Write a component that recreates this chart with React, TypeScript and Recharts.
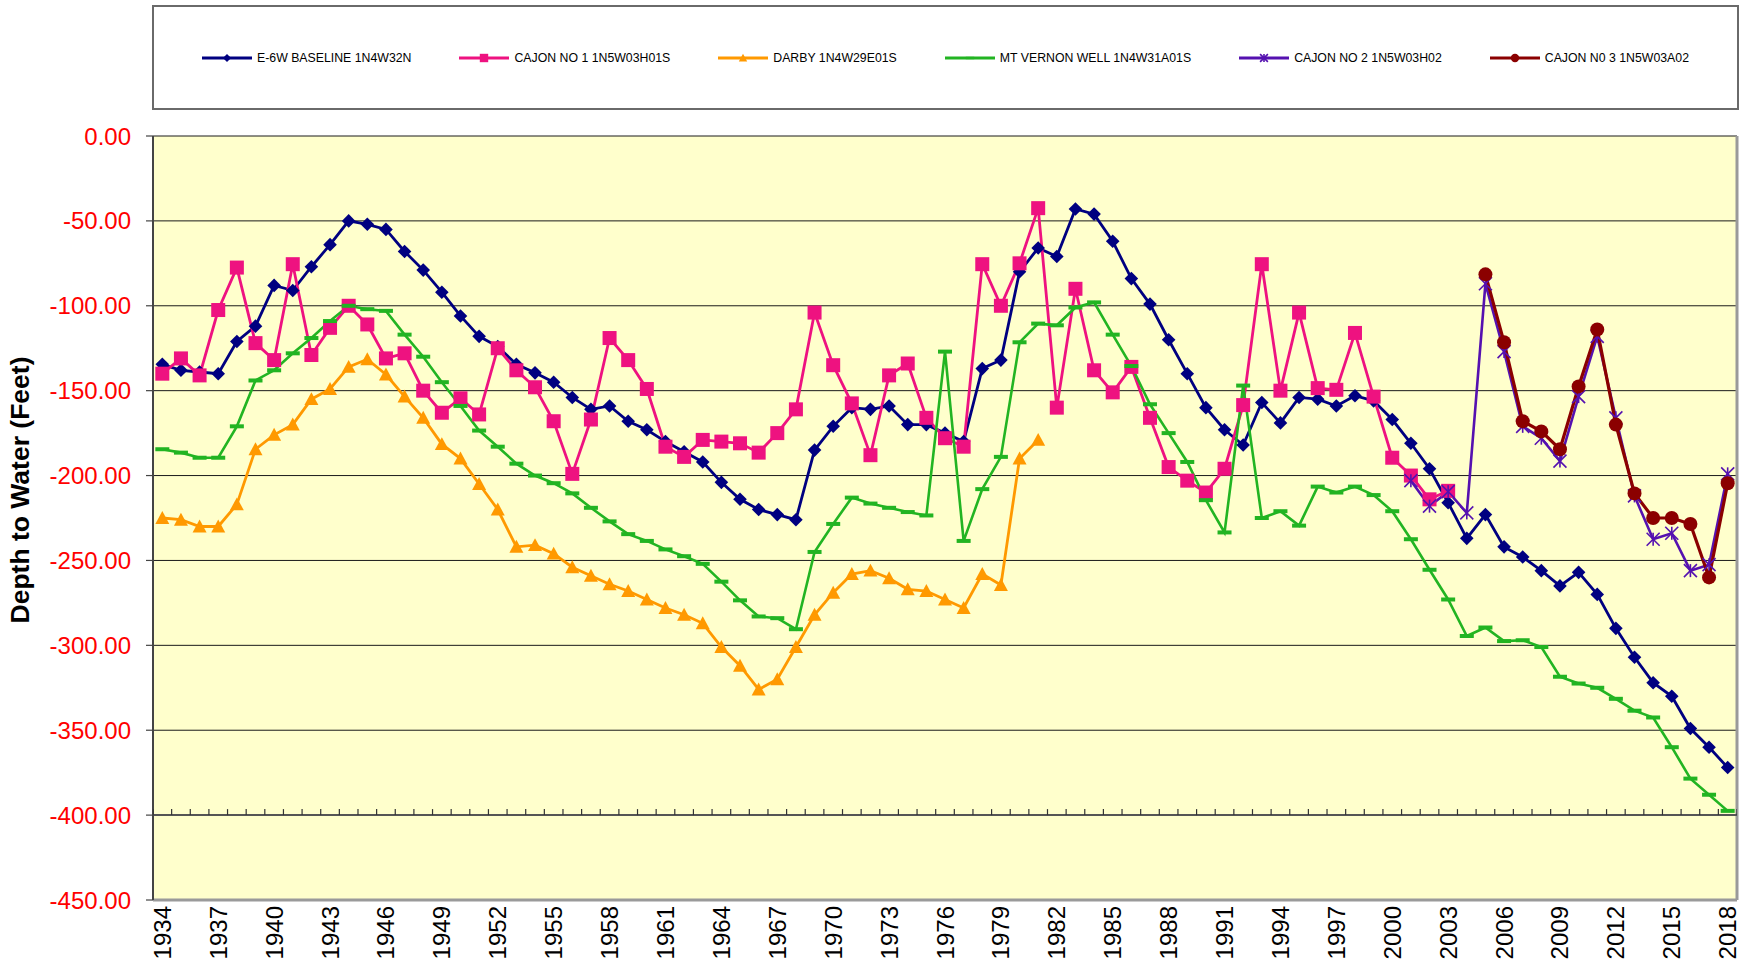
import React from 'react';
import { ComposedChart, Line, Scatter, XAxis, YAxis, CartesianGrid, ReferenceLine } from 'recharts';

// ---------- DATA ----------
const years = [
  1934, 1935, 1936, 1937, 1938, 1939, 1940, 1941, 1942, 1943, 1944, 1945, 1946, 1947, 1948, 1949,
  1950, 1951, 1952, 1953, 1954, 1955, 1956, 1957, 1958, 1959, 1960, 1961, 1962, 1963, 1964, 1965,
  1966, 1967, 1968, 1969, 1970, 1971, 1972, 1973, 1974, 1975, 1976, 1977, 1978, 1979, 1980, 1981,
  1982, 1983, 1984, 1985, 1986, 1987, 1988, 1989, 1990, 1991, 1992, 1993, 1994, 1995, 1996, 1997,
  1998, 1999, 2000, 2001, 2002, 2003, 2004, 2005, 2006, 2007, 2008, 2009, 2010, 2011, 2012, 2013,
  2014, 2015, 2016, 2017, 2018,
];

const xTickYears = [
  1934, 1937, 1940, 1943, 1946, 1949, 1952, 1955, 1958, 1961, 1964, 1967, 1970, 1973, 1976,
  1979, 1982, 1985, 1988, 1991, 1994, 1997, 2000, 2003, 2006, 2009, 2012, 2015, 2018,
];

const yTicks = [0, -50, -100, -150, -200, -250, -300, -350, -400, -450];

// E-6W BASELINE 1N4W32N, 1934-2018
const e6wBaseline = [
  -134.5, -138, -139, -140, -121, -112, -88, -91, -77, -64, -50, -52, -55, -68, -79, -92,
  -106, -118, -124, -134.5, -139.5, -145, -154, -161, -159, -168,
  -173, -180, -186, -192, -204, -214, -220, -223, -226, -185,
  -171, -160, -161, -159, -170, -170, -175, -180, -137, -132,
  -80, -66, -71, -43, -46, -62, -84, -99, -120, -140,
  -160, -173, -182, -157, -169, -154, -155, -159, -153, -156,
  -167, -181, -196, -216, -237, -223, -242, -248, -256, -265,
  -257, -270, -290, -307, -322, -330, -349, -360, -372,
];

// CAJON NO 1 1N5W03H01S, 1934-2003
const cajon1 = [
  -140, -131, -141, -102.5, -77.5, -122, -132, -75.5, -129, -113, -100, -111, -131, -128, -150, -163,
  -154.5, -164, -125, -138, -148, -168, -199, -167, -119, -132,
  -149, -183, -189, -179, -180, -181, -186.5, -175, -161, -104,
  -135, -157.5, -188, -141, -134, -166, -178, -183, -75.5, -100,
  -75, -42.5, -160, -90, -138, -151, -136, -166, -195, -203,
  -210, -196, -158.5, -75.5, -150, -104, -148.5, -149.5, -116, -153.5,
  -189.5, -200, -214, -209,
];

// DARBY 1N4W29E01S, 1934-1981
const darby = [
  -225, -226, -230, -230, -217, -184.5,
  -176, -170, -155, -149, -136, -131.5, -140.5, -153.5, -166, -181.5,
  -190, -205, -220, -242, -241, -246, -254, -259, -264, -268,
  -273, -278, -282, -287, -301, -312, -326, -320, -301, -282,
  -269, -258, -256, -260.5, -267, -268, -273, -278, -258, -264.5,
  -190, -179,
];

// MT VERNON WELL 1N4W31A01S, 1934-2018
const mtVernon = [
  -184.5, -186.5, -189.5, -189.5, -171, -144,
  -138, -128, -119, -109, -100, -102, -103, -117, -130, -145,
  -159, -173.5, -183, -193, -200, -204.5, -210.5, -219, -227, -234.5,
  -238.5, -243.5, -247.5, -252, -262.5, -273.5, -283, -284, -290.5, -245,
  -228.5, -213, -216.5, -219, -221.5, -223.5, -127, -238.5, -208, -189,
  -121.5, -110.5, -111.5, -101, -98, -117, -135.5, -158, -175, -192,
  -214.5, -233.5, -147, -225, -221, -229.5, -206.5, -210, -206.5, -211.5,
  -221, -237.5, -255.5, -273, -294.5, -289.5, -297.5, -297, -301, -318.5,
  -322.5, -325, -331.5, -338.5, -342.5, -360, -378.5, -388, -397.5,
];

// CAJON NO 2 1N5W03H02, 2001-2018
const cajon2Start = 2001;
const cajon2 = [
  -203, -218, -209.5, -222, -87, -127, -171, -178, -191.5, -153.5, -118, -166, -212, -237.5,
  -234, -256, -252.5, -199,
];

// CAJON N0 3 1N5W03A02, 2005-2018
const cajon3Start = 2005;
const cajon3 = [
  -81.5, -121.5, -168, -174, -184.5, -147.5, -114, -170, -210.5, -225, -225, -228.5, -260, -204.5,
];

const data = years.map((year, i) => ({
  year,
  e6w: e6wBaseline[i] ?? null,
  cajon1: cajon1[i] ?? null,
  darby: darby[i] ?? null,
  mtVernon: mtVernon[i] ?? null,
  cajon2: year >= cajon2Start ? cajon2[year - cajon2Start] ?? null : null,
  cajon3: year >= cajon3Start ? cajon3[year - cajon3Start] ?? null : null,
}));

// tick marks on the category axis line (crossing at -400), between categories
const axisCross = -400;
const axisTickMarks = [...years.map((y) => y - 0.5), years[years.length - 1] + 0.5].map((b) => ({
  year: b,
  depth: axisCross,
}));

// ---------- STYLES ----------
const C = {
  e6w: '#000080',
  cajon1: '#EE1280',
  darby: '#FF9900',
  mtVernon: '#22B422',
  cajon2: '#5511B0',
  cajon3: '#8B0000',
};
const FONT = '"Liberation Sans", Arial, Helvetica, sans-serif';

type MarkerKind = 'diamond' | 'square' | 'triangle' | 'dash' | 'star' | 'circle';

function markerShape(kind: MarkerKind, cx: number, cy: number, color: string, scale = 1, key?: any) {
  const s = scale;
  switch (kind) {
    case 'diamond': {
      const r = 6.8 * s;
      return <path key={key} d={`M${cx},${cy - r}L${cx + r},${cy}L${cx},${cy + r}L${cx - r},${cy}Z`} fill={color} />;
    }
    case 'square': {
      const r = 7 * s;
      return <rect key={key} x={cx - r} y={cy - r} width={2 * r} height={2 * r} fill={color} />;
    }
    case 'triangle': {
      const r = 7 * s;
      return <path key={key} d={`M${cx},${cy - r}L${cx + r},${cy + r * 0.85}L${cx - r},${cy + r * 0.85}Z`} fill={color} />;
    }
    case 'dash': {
      const w = 7 * s;
      const h = 2 * s;
      return <rect key={key} x={cx - w} y={cy - h} width={2 * w} height={2 * h} fill={color} />;
    }
    case 'star': {
      const r = 6.5 * s;
      return (
        <g key={key} stroke={color} strokeWidth={1.6}>
          <line x1={cx - r} y1={cy - r} x2={cx + r} y2={cy + r} />
          <line x1={cx - r} y1={cy + r} x2={cx + r} y2={cy - r} />
          <line x1={cx} y1={cy - r} x2={cx} y2={cy + r} />
        </g>
      );
    }
    case 'circle':
    default:
      return <circle key={key} cx={cx} cy={cy} r={7 * s} fill={color} />;
  }
}

const makeDot = (kind: MarkerKind, color: string) => (p: any) => {
  const { cx, cy, index, value } = p;
  if (cx == null || cy == null || value == null || Number.isNaN(cx) || Number.isNaN(cy)) {
    return <g key={`d-${index}`} />;
  }
  return markerShape(kind, cx, cy, color, 1, `d-${index}`);
};

const series: { key: string; name: string; color: string; marker: MarkerKind; width: number }[] = [
  { key: 'e6w', name: 'E-6W BASELINE 1N4W32N', color: C.e6w, marker: 'diamond', width: 2.8 },
  { key: 'cajon1', name: 'CAJON NO 1 1N5W03H01S', color: C.cajon1, marker: 'square', width: 2.8 },
  { key: 'darby', name: 'DARBY 1N4W29E01S', color: C.darby, marker: 'triangle', width: 2.8 },
  { key: 'mtVernon', name: 'MT VERNON WELL 1N4W31A01S', color: C.mtVernon, marker: 'dash', width: 2.6 },
  { key: 'cajon2', name: 'CAJON NO 2 1N5W03H02', color: C.cajon2, marker: 'star', width: 2.6 },
  { key: 'cajon3', name: 'CAJON N0 3 1N5W03A02', color: C.cajon3, marker: 'circle', width: 3.2 },
];

function LegendBox() {
  return (
    <div
      style={{
        position: 'absolute',
        left: 152,
        top: 5,
        width: 1587,
        height: 105,
        boxSizing: 'border-box',
        border: '2px solid #6a6a6a',
        background: '#fff',
        display: 'flex',
        alignItems: 'center',
        justifyContent: 'center',
        gap: 48,
        fontFamily: FONT,
        fontSize: 12.3,
        color: '#000',
      }}
    >
      {series.map((s) => (
        <div key={s.key} style={{ display: 'flex', alignItems: 'center', whiteSpace: 'nowrap' }}>
          <svg width={50} height={14} style={{ marginRight: 5 }}>
            <line x1={0} y1={7} x2={50} y2={7} stroke={s.color} strokeWidth={3} />
            {markerShape(s.marker, 25, 7, s.color, 0.6)}
          </svg>
          <span>{s.name}</span>
        </div>
      ))}
    </div>
  );
}

const XTick = (p: any) => {
  const { x, y, payload } = p;
  return (
    <text
      x={x}
      y={y}
      transform={`rotate(-90, ${x}, ${y})`}
      textAnchor="end"
      dominantBaseline="central"
      fontFamily={FONT}
      fontSize={24}
      fill="#000"
    >
      {payload.value}
    </text>
  );
};

export default function App() {
  return (
    <div
      style={{
        position: 'absolute',
        left: 0,
        top: 0,
        width: 1748,
        height: 969,
        background: '#fff',
        overflow: 'hidden',
      }}
    >
      <ComposedChart width={1748} height={969} data={data} margin={{ top: 136, right: 11, bottom: 0, left: 0 }}>
        <CartesianGrid vertical={false} stroke="#1a1a1a" strokeWidth={1} fill="#FFFFCC" fillOpacity={1} />
        <XAxis
          dataKey="year"
          type="number"
          domain={[1933.5, 2018.5]}
          ticks={xTickYears}
          interval={0}
          allowDataOverflow
          height={69}
          axisLine={false}
          tickLine={false}
          tickSize={4}
          tickMargin={2}
          tick={<XTick />}
        />
        <YAxis
          type="number"
          domain={[-450, 0]}
          ticks={yTicks}
          interval={0}
          allowDataOverflow
          width={153}
          axisLine={{ stroke: '#444', strokeWidth: 2 }}
          tickLine={{ stroke: '#444', strokeWidth: 1.2 }}
          tickSize={7}
          tickMargin={15}
          tickFormatter={(v: number) => v.toFixed(2)}
          tick={{ fill: '#FF0000', fontSize: 24, fontFamily: FONT }}
          label={{
            content: () => (
              <text
                x={20}
                y={490}
                transform="rotate(-90, 20, 490)"
                textAnchor="middle"
                dominantBaseline="central"
                fontFamily={FONT}
                fontWeight="bold"
                fontSize={26.5}
                fill="#000"
              >
                Depth to Water (Feet)
              </text>
            ),
          }}
        />
        <ReferenceLine y={-450} stroke="#9a9a9a" strokeWidth={3} />
        <ReferenceLine x={2018.5} stroke="#9a9a9a" strokeWidth={3} />
        <ReferenceLine y={axisCross} stroke="#555" strokeWidth={2} />
        <Scatter
          data={axisTickMarks}
          dataKey="depth"
          isAnimationActive={false}
          shape={(p: any) => (
            <line x1={p.cx} y1={p.cy} x2={p.cx} y2={p.cy - 6} stroke="#333" strokeWidth={1.2} />
          )}
        />
        {series.map((s) => (
          <Line
            key={s.key}
            type="linear"
            dataKey={s.key}
            name={s.name}
            stroke={s.color}
            strokeWidth={s.width}
            dot={makeDot(s.marker, s.color)}
            activeDot={false}
            isAnimationActive={false}
            connectNulls={false}
          />
        ))}
      </ComposedChart>
      <LegendBox />
    </div>
  );
}
